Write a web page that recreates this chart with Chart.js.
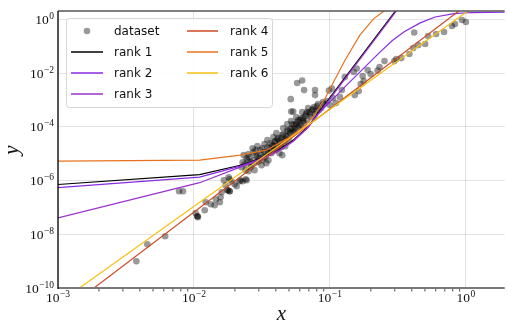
<!DOCTYPE html>
<html><head><meta charset="utf-8">
<script src="https://cdn.jsdelivr.net/npm/chart.js@4/dist/chart.umd.min.js"></script>
<style>html,body{margin:0;padding:0;background:#fff;}canvas{display:block}</style>
</head><body>
<canvas id="c" width="508" height="322"></canvas>
<script>
// ---- data ----
const dataX = [0.00377,0.00454,0.00614,0.00777,0.00831,0.0103,0.0106,0.0107,0.0120,0.0122,0.0133,0.0142,0.0145,0.0155,0.0157,0.0160,0.0166,0.0171,0.0177,0.0183,0.0183,0.0199,0.0206,0.0217,0.0228,0.0240,0.0252,0.0180,0.0189,0.0220,0.0244,0.0224,0.0240,0.0232,0.0252,0.0244,0.0261,0.0270,0.0274,0.0284,0.0288,0.0303,0.0314,0.0324,0.0341,0.0341,0.0353,0.0359,0.0371,0.0377,0.0390,0.0397,0.0410,0.0417,0.0425,0.0432,0.0446,0.0446,0.0462,0.0469,0.0477,0.0494,0.0502,0.0511,0.0528,0.0537,0.0546,0.0555,0.0574,0.0584,0.0604,0.0614,0.0635,0.0646,0.0668,0.0679,0.0703,0.0727,0.0751,0.0777,0.0804,0.0831,0.0308,0.0293,0.0330,0.0347,0.0384,0.0404,0.0454,0.0486,0.0519,0.0565,0.0625,0.0691,0.0261,0.0279,0.0515,0.0519,0.0537,0.0574,0.0625,0.0646,0.0777,0.0777,0.0983,0.1034,0.1052,0.1106,0.1183,0.1224,0.1287,0.1497,0.1574,0.1741,0.1771,0.1684,0.1894,0.1993,0.1628,0.1522,0.224,0.2317,0.252,0.298,0.308,0.335,0.384,0.410,0.417,0.502,0.528,0.604,0.691,0.790,0.831,0.935,1.0,0.0889,0.447,
  0.0228,0.0236,0.0248,0.0256,0.0265,0.0274,0.0284,0.0293,0.0298,0.0308,0.0319,0.0319,0.0330,0.0335,0.0347,0.0353,0.0365,0.0371,0.0384,0.0390,0.0404,0.0410,0.0425,0.0439,0.0439,0.0454,0.0469,0.0486,0.0494,0.0511,0.0528,0.0546,0.0565,0.0584,0.0594,0.0614,0.0635,0.0657,0.0679,0.0715,0.0739,0.0764,0.0790,0.0817,0.0860,0.0904,0.0951,0.100,0.0177,0.0183,0.0106];
const dataY = [9.9e-10,4.25e-9,8.44e-9,4.0e-7,4.0e-7,6.1e-8,4.7e-8,4.3e-8,7.85e-8,1.56e-7,1.31e-7,1.2e-7,2.02e-7,1.56e-7,2.4e-7,3.68e-7,1.03e-6,6.7e-7,4.36e-7,4.0e-7,1.12e-6,7.3e-7,6.15e-7,9.44e-7,9.44e-7,1.12e-6,2.23e-6,1.33e-6,9.44e-7,1.03e-6,1.03e-6,3.14e-6,2.43e-6,8.79e-6,9.58e-6,6.79e-6,4.82e-6,1.6e-5,1.14e-5,8.79e-6,4.82e-6,6.79e-6,3.72e-6,7.4e-6,4.43e-6,1.14e-5,5.72e-6,1.6e-5,1.04e-5,2.07e-5,1.35e-5,2.92e-5,1.9e-5,3.78e-5,1.04e-5,2.26e-5,4.89e-5,8.79e-6,2.92e-5,1.9e-5,4.49e-5,6.89e-5,3.18e-5,5.8e-5,8.91e-5,6.32e-5,1.15e-4,8.18e-5,1.49e-4,9.71e-5,1.77e-4,1.15e-4,2.1e-4,1.37e-4,2.97e-4,1.77e-4,3.52e-4,2.29e-4,4.55e-4,2.97e-4,5.89e-4,4.18e-4,1.35e-5,1.9e-5,2.26e-5,3.18e-5,4.12e-5,5.8e-5,8.91e-5,1.26e-4,1.63e-4,2.29e-4,3.52e-4,4.96e-4,3.14e-6,2.43e-6,1.07e-3,3.67e-4,3.67e-4,4.24e-3,5.25e-3,2.32e-3,2.32e-3,1.51e-3,2.22e-3,2.64e-3,1.17e-3,7.62e-4,1.27e-3,2.32e-3,7.08e-3,1.09e-2,1.47e-2,7.71e-3,5.02e-3,3.88e-3,1.29e-2,9.16e-3,2.13e-3,1.51e-3,1.24e-2,1.67e-2,2.79e-2,2.79e-2,3.32e-2,3.61e-2,5.09e-2,8.53e-2,0.322,0.12,0.239,0.283,0.336,0.562,0.668,0.942,0.793,8.29e-4,0.110,
  4.82e-6,4.06e-6,5.72e-6,7.4e-6,3.72e-6,5.72e-6,1.35e-5,8.07e-6,5.26e-6,9.58e-6,1.6e-5,5.72e-6,1.14e-5,7.4e-6,1.75e-5,1.04e-5,2.46e-5,1.35e-5,1.9e-5,2.68e-5,1.6e-5,3.47e-5,2.92e-5,3.78e-5,1.75e-5,5.32e-5,3.47e-5,7.5e-5,4.49e-5,8.18e-5,1.26e-4,6.89e-5,1.26e-4,1.77e-4,1.06e-4,2.1e-4,1.63e-4,2.5e-4,3.52e-4,2.97e-4,4.18e-4,5.4e-4,3.83e-4,6.98e-4,4.96e-4,6.98e-4,9.04e-4,6.41e-4,4.36e-7,4.0e-7,4.7e-8];

const rank1X = [0.001,0.011,0.0219,0.0308,0.0417,0.0537,0.0691,0.0817,0.301,0.519];
const rank1Y = [7.1e-7,1.65e-6,3.7e-6,6.5e-6,1.35e-5,3.18e-5,1.02e-4,3.15e-4,1.92,68.7];
const rank2X = [0.001,0.011,0.0219,0.0308,0.0417,0.0537,0.0691,0.0817,0.135,0.2355,0.288,0.352,0.461,0.594,0.817,1.106,1.93];
const rank2Y = [5.42e-7,1.33e-6,3.42e-6,6.24e-6,1.24e-5,2.92e-5,9.7e-5,2.96e-4,3.88e-3,0.0628,0.162,0.347,0.738,1.22,1.63,1.79,1.83];
const rank3X = [0.001,0.011,0.0219,0.0308,0.0417,0.0537,0.0691,0.0817,0.3057,0.528];
const rank3Y = [4.06e-8,8.3e-7,3.14e-6,5.97e-6,1.24e-5,2.92e-5,9.3e-5,2.84e-4,1.92,68.7];
const rank4X = [0.001,1.93];
const rank4Y = [9.6e-12,40.4];
const rank5X = [0.001,0.011,0.0219,0.0341,0.0494,0.0635,0.0778,0.092,0.1052,0.1285,0.1655,0.2094,0.252,0.311,0.45,1.93];
const rank5Y = [5.26e-6,5.73e-6,8.8e-6,1.35e-5,3.78e-5,9.7e-5,2.96e-4,1.13e-3,4.2e-3,0.0287,0.253,1.04,2.1,3.2,3.5,3.6];
const rank6X = [0.001,1.93];
const rank6Y = [2.7e-11,19.3];

const seriesLabels = ['dataset','rank 1','rank 2','rank 3','rank 4','rank 5','rank 6'];
const xTickValues = [1e-3,1e-2,1e-1,1e0];
const yTickValues = [1e-10,1e-8,1e-6,1e-4,1e-2,1e0];
const xLimits = [1e-3,1.93];
const yLimits = [1e-10,2.04];

// ---- styling ----
const lineColors = ['#000000','#8a2be2','#9932cc','#cc4a26','#e8731e','#f7c10f'];
const pointColor = 'rgba(0,0,0,0.4)';

function pts(xs, ys){ return xs.map((x,i)=>({x:x, y:ys[i]})); }
const lineSets = [[rank1X,rank1Y],[rank2X,rank2Y],[rank3X,rank3Y],[rank4X,rank4Y],[rank5X,rank5Y],[rank6X,rank6Y]];

const datasets = [{
  label: seriesLabels[0], data: pts(dataX,dataY), showLine:false,
  pointRadius:3.3, pointHoverRadius:3.3, pointBackgroundColor:pointColor, pointBorderWidth:0, borderColor:pointColor, order:100
}];
lineSets.forEach((s,i)=>{
  datasets.push({label: seriesLabels[i+1], data: pts(s[0],s[1]), showLine:true, pointRadius:0,
    borderColor: lineColors[i], borderWidth:1.2, tension:0, order: 10-i});
});

const SERIF = '"Liberation Serif","DejaVu Serif",serif';
function supLabel(ctx, v, x, y, align){
  const e = Math.round(Math.log10(v));
  const es = (e<0?'\u2212':'') + Math.abs(e);
  ctx.font = '13.5px ' + SERIF;
  const wb = ctx.measureText('10').width;
  ctx.font = '9.5px ' + SERIF;
  const we = ctx.measureText(es).width;
  const tot = wb + we + 0.5;
  const left = align==='right' ? x - tot : x - tot/2;
  ctx.fillStyle = '#111';
  ctx.textAlign='left'; ctx.textBaseline='alphabetic';
  ctx.font = '13.5px ' + SERIF; ctx.fillText('10', left, y);
  ctx.font = '9.5px ' + SERIF; ctx.fillText(es, left + wb + 0.5, y - 5);
}

const decor = {
  id:'decor',
  beforeDraw(chart){
    const c = chart.ctx; c.save(); c.fillStyle='#fff'; c.fillRect(0,0,chart.width,chart.height); c.restore();
  },
  afterDraw(chart){
    const c = chart.ctx, a = chart.chartArea, xs = chart.scales.x, ys = chart.scales.y;
    c.save();
    // spines
    c.lineWidth = 1.6; c.strokeStyle = '#555';
    c.beginPath(); c.moveTo(a.left, a.top); c.lineTo(a.right, a.top); c.stroke();
    c.lineWidth = 2; c.strokeStyle = '#7a7a7a';
    c.beginPath(); c.moveTo(a.left, a.bottom); c.lineTo(a.right, a.bottom); c.stroke();
    c.lineWidth = 1.3; c.strokeStyle = '#000';
    c.beginPath(); c.moveTo(a.left, a.top); c.lineTo(a.left, a.bottom+1); c.stroke();
    // x minor ticks
    c.lineWidth = 0.8; c.strokeStyle = '#222';
    for (let n=-3;n<=0;n++){ for(let k=2;k<=9;k++){ const v=k*Math.pow(10,n); if(v>xLimits[1]) continue;
      const px = xs.getPixelForValue(v); c.beginPath(); c.moveTo(px, a.bottom+1); c.lineTo(px, a.bottom+3.5); c.stroke(); } }
    // tick labels
    xTickValues.forEach(v=>{ supLabel(c, v, xs.getPixelForValue(v), a.bottom+14, 'center'); });
    yTickValues.forEach(v=>{ supLabel(c, v, a.left-4, ys.getPixelForValue(v)+4.6, 'right'); });
    // axis titles
    c.fillStyle = '#111';
    c.font = 'italic 21px ' + SERIF; c.textAlign='center'; c.textBaseline='alphabetic';
    c.fillText('x', (a.left+a.right)/2, 320);
    c.save(); c.translate(18, 150); c.rotate(-Math.PI/2); c.fillText('y', 0, 0); c.restore();
    // legend
    const bx=66.5, by=18.5, bw=206, bh=89;
    c.beginPath(); c.roundRect(bx,by,bw,bh,3);
    c.fillStyle='rgba(255,255,255,0.85)'; c.fill();
    c.lineWidth=1; c.strokeStyle='#d6d6d6'; c.stroke();
    const rows=[31,52,73,94];
    const items=[{col:0,row:0,ds:0},{col:0,row:1,ds:1},{col:0,row:2,ds:2},{col:0,row:3,ds:3},{col:1,row:0,ds:4},{col:1,row:1,ds:5},{col:1,row:2,ds:6}];
    const hx=[[71,103,114],[187,218,230]];
    c.font = '12px "DejaVu Sans",sans-serif'; c.textAlign='left'; c.textBaseline='middle';
    items.forEach(it=>{
      const d = chart.data.datasets[it.ds]; const y = rows[it.row]; const h = hx[it.col];
      if (it.ds===0){ c.fillStyle=pointColor; c.beginPath(); c.arc((h[0]+h[1])/2, y, 3.3, 0, Math.PI*2); c.fill(); }
      else { c.strokeStyle=d.borderColor; c.lineWidth=1.5; c.beginPath(); c.moveTo(h[0],y); c.lineTo(h[1],y); c.stroke(); }
      c.fillStyle='#111'; c.fillText(d.label, h[2], y+0.5);
    });
    c.restore();
  }
};

new Chart(document.getElementById('c'), {
  type:'scatter',
  data:{datasets},
  options:{
    responsive:false, animation:false, devicePixelRatio:1,
    layout:{padding:{left:58,top:11,right:0,bottom:34}},
    plugins:{legend:{display:false}, tooltip:{enabled:false}},
    scales:{
      x:{type:'logarithmic', min:xLimits[0], max:xLimits[1],
        afterBuildTicks:(s)=>{ s.ticks = xTickValues.map(v=>({value:v})); },
        ticks:{display:false}, grid:{color:'rgba(0,0,0,0.11)', lineWidth:1, drawTicks:false}, border:{display:false}},
      y:{type:'logarithmic', min:yLimits[0], max:yLimits[1],
        afterBuildTicks:(s)=>{ s.ticks = yTickValues.map(v=>({value:v})); },
        ticks:{display:false}, grid:{color:'rgba(0,0,0,0.11)', lineWidth:1, drawTicks:false}, border:{display:false}}
    }
  },
  plugins:[decor]
});
</script>
</body></html>
